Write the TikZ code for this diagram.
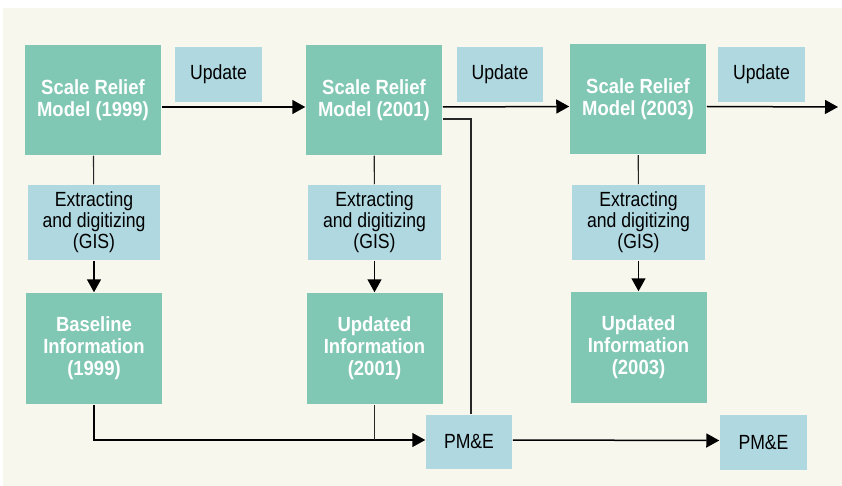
\documentclass[tikz,border=0pt]{standalone}
\usepackage{fontspec}
\setmainfont[FakeStretch=0.86,BoldFeatures={FakeStretch=0.9}]{Liberation Sans}
\usetikzlibrary{arrows.meta}
\definecolor{pagebg}{RGB}{247,247,237}
\definecolor{modelgreen}{RGB}{128,200,180}
\definecolor{stepblue}{RGB}{176,216,224}

\begin{document}
\begin{tikzpicture}[x=1pt,y=-1pt,>={Triangle[length=13pt,width=14pt]},line width=1.5pt,
  model/.style={fill=modelgreen,text=white,font=\fontsize{20.5}{22}\selectfont\bfseries,align=center,minimum width=136pt,minimum height=110pt,inner sep=0pt},
  task/.style={fill=stepblue,text=black,font=\fontsize{20.5}{21}\selectfont,align=center,inner sep=0pt},
  link/.style={line width=1.1pt,black!85}]
\useasboundingbox (0,0) rectangle (842,486);
\fill[pagebg] (3,8) rectangle (842,486);
\node[model] (srmA) at (93,100){Scale Relief\\Model (1999)};
\node[model] (srmB) at (374,100){Scale Relief\\Model (2001)};
\node[model] (srmC) at (638,99.5){Scale Relief\\Model (2003)};
\node[task,minimum width=87pt,minimum height=55pt] (updA) at (218.5,74.5){Update};
\node[task,minimum width=86pt,minimum height=55pt] (updB) at (500,74.5){Update};
\node[task,minimum width=87pt,minimum height=55pt] (updC) at (761.5,74.5){Update};
\node[task,minimum width=132pt,minimum height=75pt] (extA) at (94,222.5){Extracting\\and digitizing\\(GIS)};
\node[task,minimum width=133pt,minimum height=75pt] (extB) at (374.5,222.5){Extracting\\and digitizing\\(GIS)};
\node[task,minimum width=133pt,minimum height=75pt] (extC) at (638.5,222.5){Extracting\\and digitizing\\(GIS)};
\node[model,minimum height=111pt] (infA) at (94,348.5){Baseline\\Information\\(1999)};
\node[model,minimum height=111pt] (infB) at (374.5,348.5){Updated\\Information\\(2001)};
\node[model,minimum height=111pt] (infC) at (638.5,347.5){Updated\\Information\\(2003)};
\node[task,minimum width=86pt,minimum height=54pt] (pmA) at (469,442){PM\&E};
\node[task,minimum width=87pt,minimum height=55pt] (pmB) at (763.5,442.5){PM\&E};
\coordinate (next) at (838,107);
\coordinate (pmIn) at ([yshift=2pt]pmA.west);
\draw[->] ([yshift=-7pt]srmA.east)--([yshift=-7pt]srmB.west);
\draw[->] ([yshift=-7pt]srmB.east)--([yshift=-7pt]srmC.west);
\draw[->] ([yshift=-7pt]srmC.east)--(next);
\draw[link] (srmA)--(extA); \draw[link] (srmB)--(extB); \draw[link] (srmC)--(extC);
\draw[->] (extA)--(infA); \draw[->] (extB)--(infB); \draw[->] (extC)--(infC);
\draw[link] ([yshift=-19pt]srmB.east)-|([xshift=2pt]pmA.north);
\draw[->] (infA.south)|-(pmIn);
\draw[link] (infB.south)--(infB.south|-pmIn);
\draw[->] ([yshift=2pt]pmA.east)--([yshift=2pt]pmB.west);
\end{tikzpicture}
\end{document}
